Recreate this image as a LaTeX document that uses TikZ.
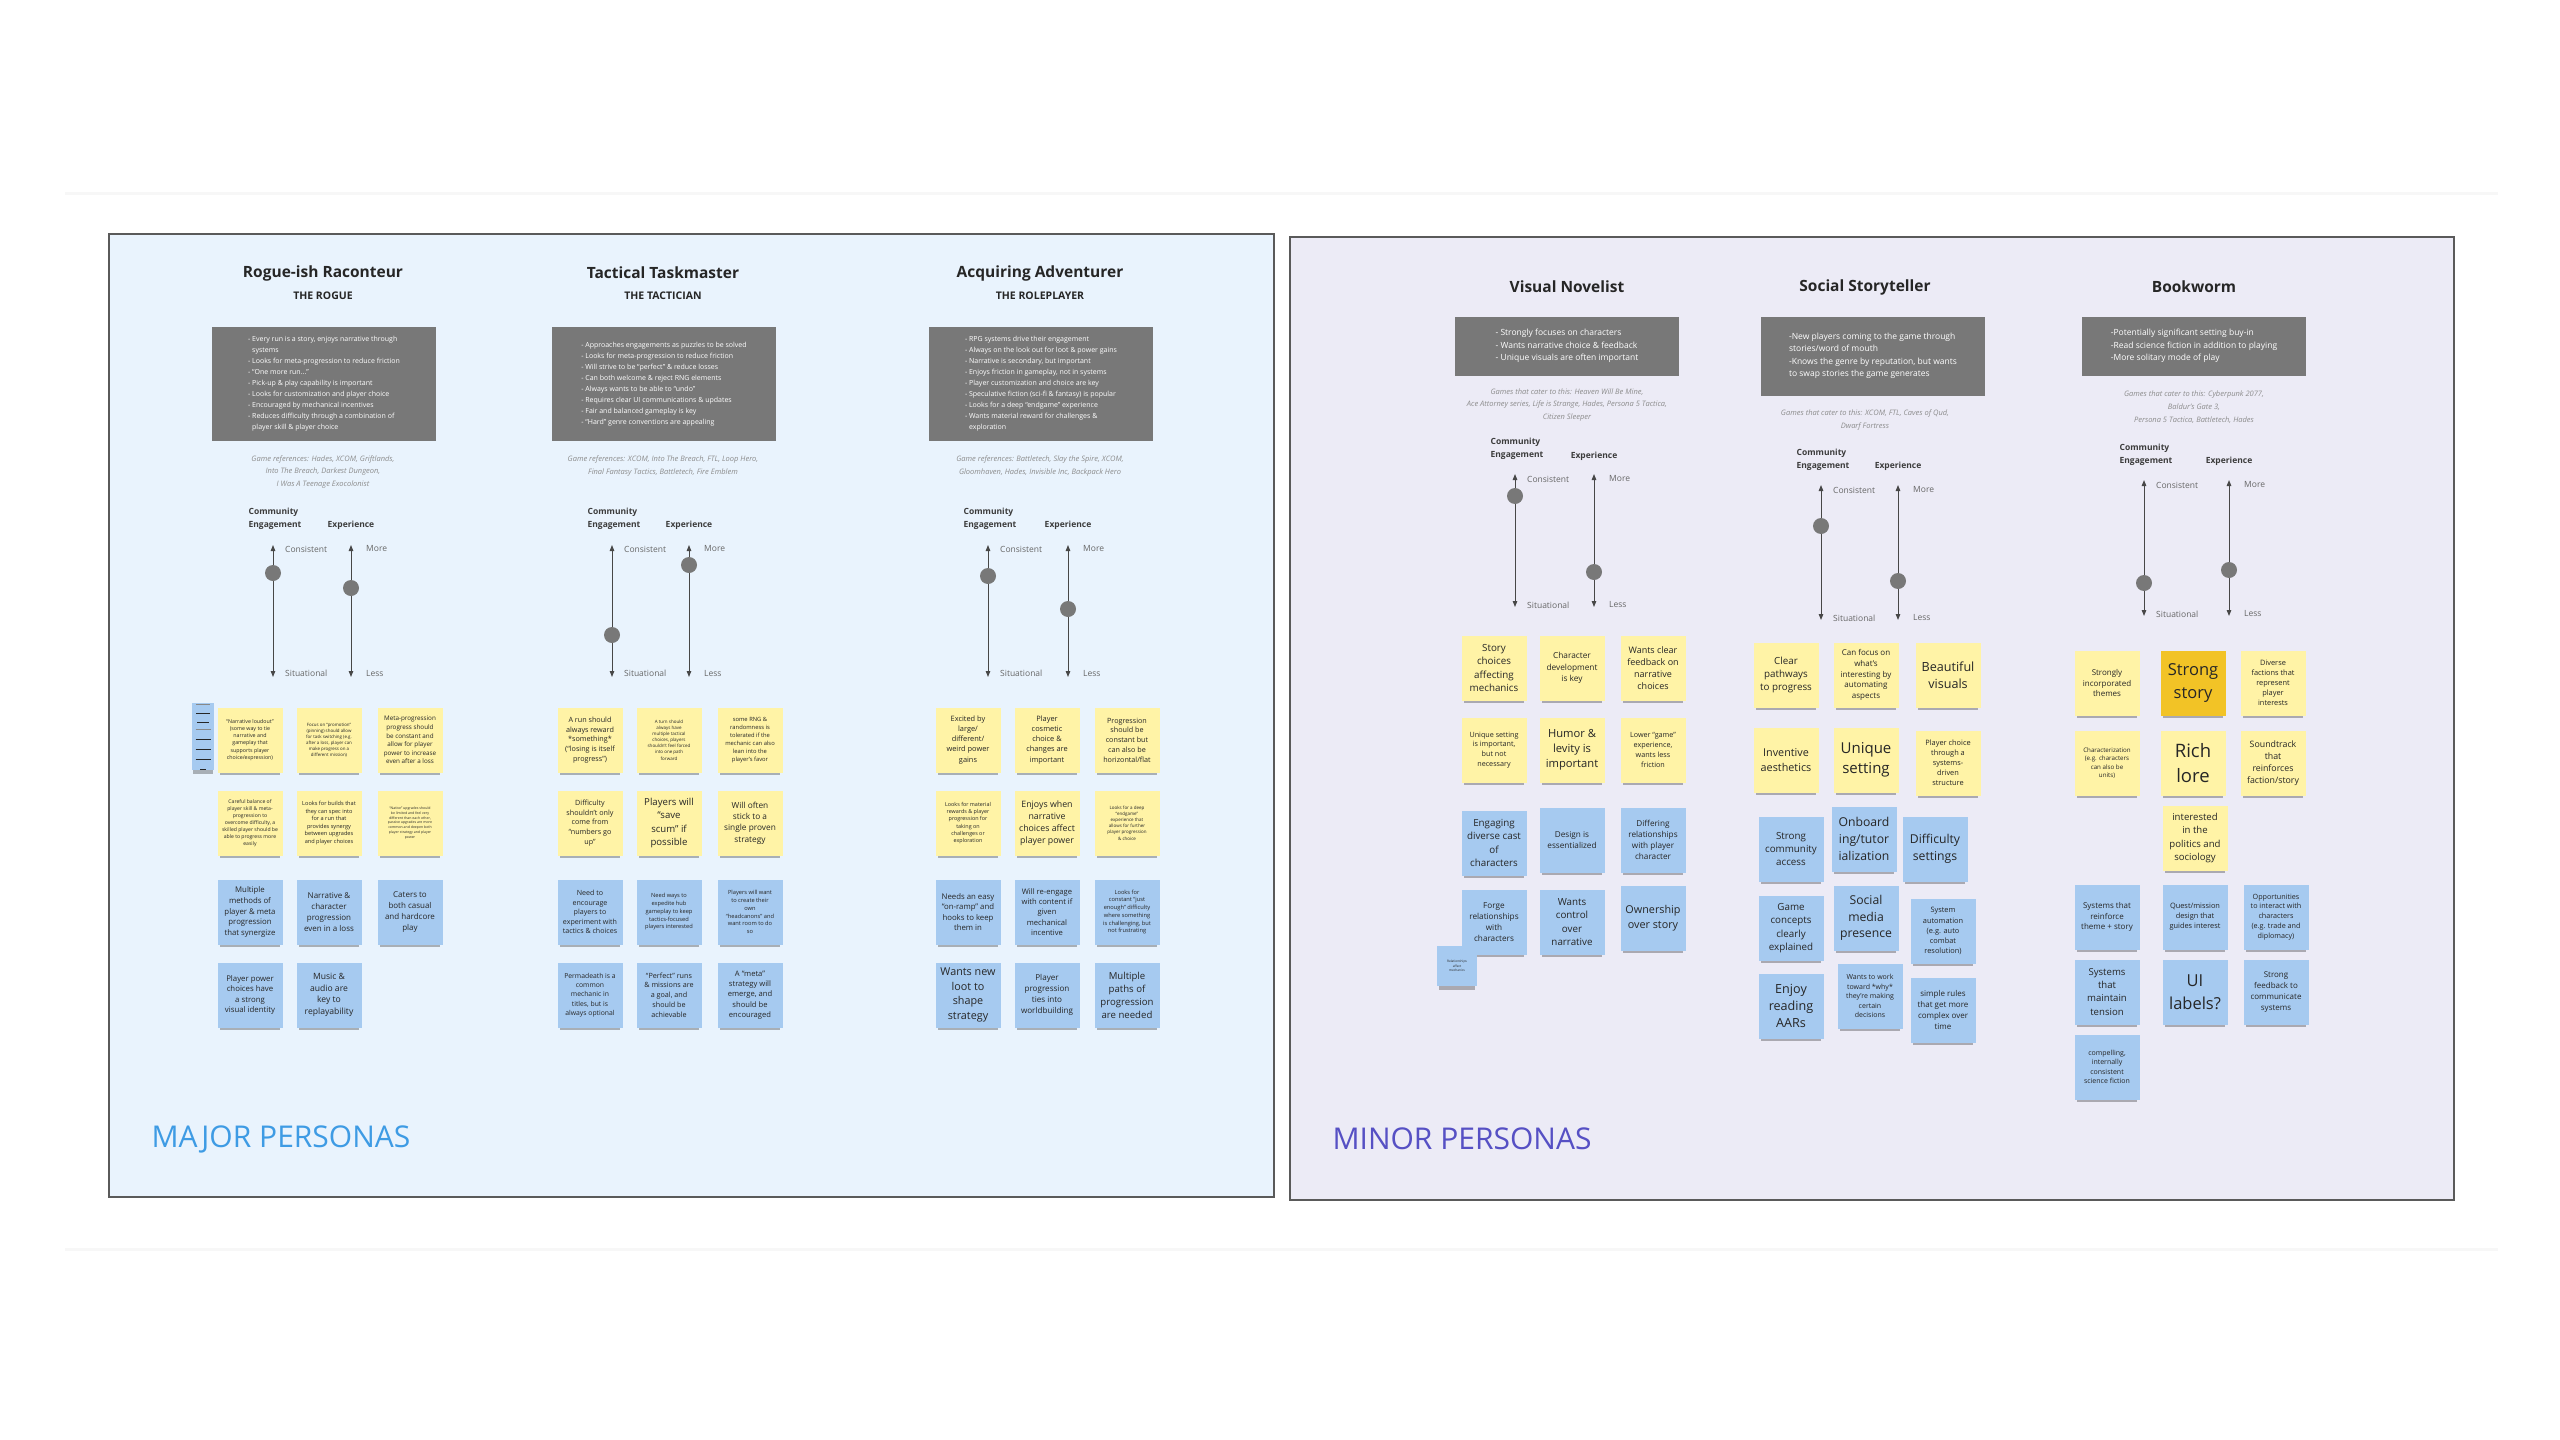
\documentclass[tikz,border=0pt]{standalone}
\usepackage{fontspec}
\setmainfont{Open Sans}
\usetikzlibrary{arrows.meta,positioning,shadows}
\definecolor{pcInk}{HTML}{262626}
\definecolor{pcMuted}{HTML}{8C8C8C}
\definecolor{pcSlate}{HTML}{787878}
\definecolor{pcBorder}{HTML}{5A5A5A}
\definecolor{pcMajorBg}{HTML}{E9F3FD}
\definecolor{pcMinorBg}{HTML}{ECEBF6}
\definecolor{pcYellow}{HTML}{FFF3A6}
\definecolor{pcBlue}{HTML}{A6CAF0}
\definecolor{pcGold}{HTML}{F2C326}
\definecolor{pcMajor}{HTML}{3E9BE4}
\definecolor{pcMinor}{HTML}{5650C4}
\newcommand\stsz[1]{\fontsize{#1}{\fpeval{1.36*#1}}\selectfont}
\tikzset{
  pc canvas/.style={fill=white},
  pc frame/.style={draw=black!3, line width=3pt},
  pc major panel/.style={fill=pcMajorBg, draw=pcBorder, line width=1.2pt},
  pc minor panel/.style={fill=pcMinorBg, draw=pcBorder, line width=1.2pt},
  pc note/.style={
    rectangle, minimum width=65pt, minimum height=65pt, inner sep=1pt,
    align=center, text=pcInk,
    drop shadow={shadow xshift=0pt, shadow yshift=-6pt, shadow scale=.92,
      opacity=.28, fill=black}
  },
  pc yellow/.style={pc note, fill=pcYellow},
  pc blue/.style={pc note, fill=pcBlue},
  pc gold/.style={pc note, fill=pcGold},
  pc tiny/.style={pc note, minimum width=22pt, minimum height=24pt, fill=pcBlue,
    drop shadow={shadow xshift=0pt, shadow yshift=-2pt, shadow scale=.9,
      opacity=.22, fill=black}},
  pc title/.style={font=\bfseries\stsz{15.5}, text=pcInk},
  pc subtitle/.style={font=\bfseries\stsz{10.5}, text=pcInk},
  pc summary/.style={fill=pcSlate, text=white, align=left, inner sep=0pt},
  pc refs/.style={font=\itshape\fontsize{7.5}{12.8}\selectfont, text=pcMuted, align=center},
  pc axis/.style={
    draw=pcInk!85, line width=1pt,
    {Triangle[length=6pt,width=4.5pt]}-{Triangle[length=6pt,width=4.5pt]}
  },
  pc dot/.style={circle, fill=pcSlate, minimum size=16pt, inner sep=0pt},
  pc axis title/.style={font=\bfseries\fontsize{8.5}{12.5}\selectfont, text=pcInk!90, align=left},
  pc axis note/.style={font=\fontsize{8.5}{10}\selectfont, text=pcInk!70, anchor=west, inner sep=0pt},
  pc heading/.style={font=\fontsize{30}{36}\selectfont, anchor=west}
}

\begin{document}
\begin{tikzpicture}[x=1pt,y=-1pt]
  \path[pc canvas] (0,0) rectangle (2560,1440);
  \useasboundingbox (0,0) rectangle (2560,1440);
  \draw[pc frame] (65,193) -- (2498,193);
  \draw[pc frame] (65,1249) -- (2498,1249);
  \path[pc major panel] (109,234) rectangle (1274,1197);
  \path[pc minor panel] (1290,237) rectangle (2454,1200);

  \node[pc heading, text=pcMajor] (majorHead) at (148,1139) {MAJOR PERSONAS};
  \node[pc heading, text=pcMinor] (minorHead) at (1329,1139) {MINOR PERSONAS};

  \node[pc title] (rogTitle) at (323,273) {Rogue-ish Raconteur};
  \node[pc subtitle] (rogSub) at (323,296) {THE ROGUE};
  \node[pc summary, minimum width=224pt, minimum height=114pt, font=\fontsize{7}{11}\selectfont] (rogSum) at (324,384) {%
    - Every run is a story, enjoys narrative through\\
    \phantom{- }systems\\
    - Looks for meta-progression to reduce friction\\
    - ``One more run...''\\
    - Pick-up \& play capability is important\\
    - Looks for customization and player choice\\
    - Encouraged by mechanical incentives\\
    - Reduces difficulty through a combination of\\
    \phantom{- }player skill \& player choice};
  \node[pc refs] (rogRefs) at (323,472) {Game references: Hades, XCOM, Griftlands,\\Into The Breach, Darkest Dungeon,\\I Was A Teenage Exocolonist};

  \node[pc title] (tacTitle) at (663,273) {Tactical Taskmaster};
  \node[pc subtitle] (tacSub) at (663,296) {THE TACTICIAN};
  \node[pc summary, minimum width=224pt, minimum height=114pt, font=\fontsize{7}{11}\selectfont] (tacSum) at (664,384) {%
    - Approaches engagements as puzzles to be solved\\
    - Looks for meta-progression to reduce friction\\
    - Will strive to be ``perfect'' \& reduce losses\\
    - Can both welcome \& reject RNG elements\\
    - Always wants to be able to ``undo''\\
    - Requires clear UI communications \& updates\\
    - Fair and balanced gameplay is key\\
    - ``Hard'' genre conventions are appealing};
  \node[pc refs] (tacRefs) at (663,466) {Game references: XCOM, Into The Breach, FTL, Loop Hero,\\Final Fantasy Tactics, Battletech, Fire Emblem};

  \node[pc title] (rolTitle) at (1040,273) {Acquiring Adventurer};
  \node[pc subtitle] (rolSub) at (1040,296) {THE ROLEPLAYER};
  \node[pc summary, minimum width=224pt, minimum height=114pt, font=\fontsize{7}{11}\selectfont] (rolSum) at (1041,384) {%
    - RPG systems drive their engagement\\
    - Always on the look out for loot \& power gains\\
    - Narrative is secondary, but important\\
    - Enjoys friction in gameplay, not in systems\\
    - Player customization and choice are key\\
    - Speculative fiction (sci-fi \& fantasy) is popular\\
    - Looks for a deep ``endgame'' experience\\
    - Wants material reward for challenges \&\\
    \phantom{- }exploration};
  \node[pc refs] (rolRefs) at (1040,466) {Game references: Battletech, Slay the Spire, XCOM,\\Gloomhaven, Hades, Invisible Inc, Backpack Hero};

  \node[pc title] (visTitle) at (1567,287) {Visual Novelist};
  \node[pc summary, minimum width=224pt, minimum height=59pt, font=\fontsize{8.5}{12.5}\selectfont] (visSum) at (1567,346) {%
    - Strongly focuses on characters\\
    - Wants narrative choice \& feedback\\
    - Unique visuals are often important};
  \node[pc refs] (visRefs) at (1567,405) {Games that cater to this: Heaven Will Be Mine,\\Ace Attorney series, Life is Strange, Hades, Persona 5 Tactica,\\Citizen Sleeper};

  \node[pc title] (socTitle) at (1865,287) {Social Storyteller};
  \node[pc summary, minimum width=224pt, minimum height=79pt, font=\fontsize{8.5}{12.5}\selectfont] (socSum) at (1873,356) {%
    -New players coming to the game through\\
    stories/word of mouth\\
    -Knows the genre by reputation, but wants\\
    to swap stories the game generates};
  \node[pc refs] (socRefs) at (1865,420) {Games that cater to this: XCOM, FTL, Caves of Qud,\\Dwarf Fortress};

  \node[pc title] (bokTitle) at (2194,287) {Bookworm};
  \node[pc summary, minimum width=224pt, minimum height=59pt, font=\fontsize{8.5}{12.5}\selectfont] (bokSum) at (2194,346) {%
    -Potentially significant setting buy-in\\
    -Read science fiction in addition to playing\\
    -More solitary mode of play};
  \node[pc refs] (bokRefs) at (2194,407) {Games that cater to this: Cyberpunk 2077,\\Baldur's Gate 3,\\Persona 5 Tactica, Battletech, Hades};

  \coordinate (rogCtop) at (273,545); \coordinate (rogCbot) at (273,677);
  \coordinate (rogEtop) at (351,545); \coordinate (rogEbot) at (351,677);
  \draw[pc axis] (rogCbot) -- (rogCtop);
  \draw[pc axis] (rogEbot) -- (rogEtop);
  \node[pc dot] (rogCdot) at (273,573) {};
  \node[pc dot] (rogEdot) at (351,588) {};
  \node[pc axis title] (rogCname) at (275,519) {Community\\Engagement};
  \node[pc axis title] (rogEname) at (351,525) {Experience};
  \node[pc axis note] (rogCmax) at (285,549) {Consistent};
  \node[pc axis note] (rogCmin) at (285,673) {Situational};
  \node[pc axis note] (rogEmax) at (366,549) {More};
  \node[pc axis note] (rogEmin) at (366,673) {Less};

  \coordinate (tacCtop) at (612,545); \coordinate (tacCbot) at (612,677);
  \coordinate (tacEtop) at (689,545); \coordinate (tacEbot) at (689,677);
  \draw[pc axis] (tacCbot) -- (tacCtop);
  \draw[pc axis] (tacEbot) -- (tacEtop);
  \node[pc dot] (tacCdot) at (612,635) {};
  \node[pc dot] (tacEdot) at (689,565) {};
  \node[pc axis title] (tacCname) at (614,519) {Community\\Engagement};
  \node[pc axis title] (tacEname) at (689,525) {Experience};
  \node[pc axis note] (tacCmax) at (624,549) {Consistent};
  \node[pc axis note] (tacCmin) at (624,673) {Situational};
  \node[pc axis note] (tacEmax) at (704,549) {More};
  \node[pc axis note] (tacEmin) at (704,673) {Less};

  \coordinate (rolCtop) at (988,545); \coordinate (rolCbot) at (988,677);
  \coordinate (rolEtop) at (1068,545); \coordinate (rolEbot) at (1068,677);
  \draw[pc axis] (rolCbot) -- (rolCtop);
  \draw[pc axis] (rolEbot) -- (rolEtop);
  \node[pc dot] (rolCdot) at (988,576) {};
  \node[pc dot] (rolEdot) at (1068,609) {};
  \node[pc axis title] (rolCname) at (990,519) {Community\\Engagement};
  \node[pc axis title] (rolEname) at (1068,525) {Experience};
  \node[pc axis note] (rolCmax) at (1000,549) {Consistent};
  \node[pc axis note] (rolCmin) at (1000,673) {Situational};
  \node[pc axis note] (rolEmax) at (1083,549) {More};
  \node[pc axis note] (rolEmin) at (1083,673) {Less};

  \coordinate (visCtop) at (1515,474); \coordinate (visCbot) at (1515,607);
  \coordinate (visEtop) at (1594,474); \coordinate (visEbot) at (1594,607);
  \draw[pc axis] (visCbot) -- (visCtop);
  \draw[pc axis] (visEbot) -- (visEtop);
  \node[pc dot] (visCdot) at (1515,496) {};
  \node[pc dot] (visEdot) at (1594,572) {};
  \node[pc axis title] (visCname) at (1517,449) {Community\\Engagement};
  \node[pc axis title] (visEname) at (1594,456) {Experience};
  \node[pc axis note] (visCmax) at (1527,479) {Consistent};
  \node[pc axis note] (visCmin) at (1527,605) {Situational};
  \node[pc axis note] (visEmax) at (1609,479) {More};
  \node[pc axis note] (visEmin) at (1609,605) {Less};

  \coordinate (socCtop) at (1821,485); \coordinate (socCbot) at (1821,620);
  \coordinate (socEtop) at (1898,485); \coordinate (socEbot) at (1898,620);
  \draw[pc axis] (socCbot) -- (socCtop);
  \draw[pc axis] (socEbot) -- (socEtop);
  \node[pc dot] (socCdot) at (1821,526) {};
  \node[pc dot] (socEdot) at (1898,581) {};
  \node[pc axis title] (socCname) at (1823,460) {Community\\Engagement};
  \node[pc axis title] (socEname) at (1898,466) {Experience};
  \node[pc axis note] (socCmax) at (1833,490) {Consistent};
  \node[pc axis note] (socCmin) at (1833,618) {Situational};
  \node[pc axis note] (socEmax) at (1913,490) {More};
  \node[pc axis note] (socEmin) at (1913,618) {Less};

  \coordinate (bokCtop) at (2144,480); \coordinate (bokCbot) at (2144,616);
  \coordinate (bokEtop) at (2229,480); \coordinate (bokEbot) at (2229,616);
  \draw[pc axis] (bokCbot) -- (bokCtop);
  \draw[pc axis] (bokEbot) -- (bokEtop);
  \node[pc dot] (bokCdot) at (2144,583) {};
  \node[pc dot] (bokEdot) at (2229,570) {};
  \node[pc axis title] (bokCname) at (2146,455) {Community\\Engagement};
  \node[pc axis title] (bokEname) at (2229,461) {Experience};
  \node[pc axis note] (bokCmax) at (2156,485) {Consistent};
  \node[pc axis note] (bokCmin) at (2156,614) {Situational};
  \node[pc axis note] (bokEmax) at (2244,485) {More};
  \node[pc axis note] (bokEmin) at (2244,614) {Less};

  \node[pc tiny] (rogTinyA) at (203,718) {\color{pcInk!55}\rule{14pt}{.5pt}\\[-3pt]\rule{14pt}{.5pt}\\[-3pt]\rule{12pt}{.5pt}\\[-3pt]\rule{10pt}{.5pt}};
  \node[pc tiny] (rogTinyB) at (203,749) {\color{pcInk!55}\rule{15pt}{.6pt}\\[-2pt]\rule{15pt}{.6pt}\\[-2pt]\rule{15pt}{.6pt}\\[-2pt]\rule{15pt}{.6pt}\\[-2pt]\rule{6pt}{.6pt}};

  \node[pc yellow, font=\stsz{5.3}] (rogY1) at (250,740) {``Narrative loudout''\\(some way to tie\\narrative and\\gameplay that\\supports player\\choice/expression)};
  \node[pc yellow, font=\stsz{4.4}] (rogY2) at (329,740) {Focus on ``promotion''\\(pinning) should allow\\for task switching (e.g.\\after a loss, player can\\make progress on a\\different mission)};
  \node[pc yellow, font=\stsz{6.3}] (rogY3) at (410,740) {Meta-progression\\progress should\\be constant and\\allow for player\\power to increase\\even after a loss};
  \node[pc yellow, font=\stsz{5.1}] (rogY4) at (250,823) {Careful balance of\\player skill \& meta-\\progression to\\overcome difficulty, a\\skilled player should be\\able to progress more\\easily};
  \node[pc yellow, font=\stsz{5.6}] (rogY5) at (329,823) {Looks for builds that\\they can spec into\\for a run that\\provides synergy\\between upgrades\\and player choices};
  \node[pc yellow, font=\stsz{3.5}] (rogY6) at (410,823) {``Native'' upgrades should\\be limited and feel very\\different than each other,\\passive upgrades are more\\common and deepen both\\player strategy and player\\power};
  \node[pc blue, font=\stsz{7.8}] (rogB1) at (250,912) {Multiple\\methods of\\player \& meta\\progression\\that synergize};
  \node[pc blue, font=\stsz{8}] (rogB2) at (329,912) {Narrative \&\\character\\progression\\even in a loss};
  \node[pc blue, font=\stsz{8}] (rogB3) at (410,912) {Caters to\\both casual\\and hardcore\\play};
  \node[pc blue, font=\stsz{7.8}] (rogB4) at (250,995) {Player power\\choices have\\a strong\\visual identity};
  \node[pc blue, font=\stsz{8.6}] (rogB5) at (329,995) {Music \&\\audio are\\key to\\replayability};

  \node[pc yellow, font=\stsz{7.2}] (tacY1) at (590,740) {A run should\\always reward\\*something*\\(``losing is itself\\progress'')};
  \node[pc yellow, font=\stsz{4.5}] (tacY2) at (669,740) {A turn should\\always have\\multiple tactical\\choices, players\\shouldn't feel forced\\into one path\\forward};
  \node[pc yellow, font=\stsz{5.8}] (tacY3) at (750,740) {some RNG \&\\randomness is\\tolerated if the\\mechanic can also\\lean into the\\player's favor};
  \node[pc yellow, font=\stsz{7.2}] (tacY4) at (590,823) {Difficulty\\shouldn't only\\come from\\``numbers go\\up''};
  \node[pc yellow, font=\stsz{9.6}] (tacY5) at (669,823) {Players will\\``save\\scum'' if\\possible};
  \node[pc yellow, font=\stsz{8.3}] (tacY6) at (750,823) {Will often\\stick to a\\single proven\\strategy};
  \node[pc blue, font=\stsz{7.1}] (tacB1) at (590,912) {Need to\\encourage\\players to\\experiment with\\tactics \& choices};
  \node[pc blue, font=\stsz{5.7}] (tacB2) at (669,912) {Need ways to\\expedite hub\\gameplay to keep\\tactics-focused\\players interested};
  \node[pc blue, font=\stsz{5.7}] (tacB3) at (750,912) {Players will want\\to create their\\own\\``headcanons'' and\\want room to do\\so};
  \node[pc blue, font=\stsz{6.8}] (tacB4) at (590,995) {Permadeath is a\\common\\mechanic in\\titles, but is\\always optional};
  \node[pc blue, font=\stsz{7.2}] (tacB5) at (669,995) {``Perfect'' runs\\\& missions are\\a goal, and\\should be\\achievable};
  \node[pc blue, font=\stsz{7.6}] (tacB6) at (750,995) {A ``meta''\\strategy will\\emerge, and\\should be\\encouraged};

  \node[pc yellow, font=\stsz{7.4}] (rolY1) at (968,740) {Excited by\\large/\\different/\\weird power\\gains};
  \node[pc yellow, font=\stsz{7.4}] (rolY2) at (1047,740) {Player\\cosmetic\\choice \&\\changes are\\important};
  \node[pc yellow, font=\stsz{7.2}] (rolY3) at (1127,740) {Progression\\should be\\constant but\\can also be\\horizontal/flat};
  \node[pc yellow, font=\stsz{5.4}] (rolY4) at (968,823) {Looks for material\\rewards \& player\\progression for\\taking on\\challenges or\\exploration};
  \node[pc yellow, font=\stsz{8.8}] (rolY5) at (1047,823) {Enjoys when\\narrative\\choices affect\\player power};
  \node[pc yellow, font=\stsz{4.5}] (rolY6) at (1127,823) {Looks for a deep\\``endgame''\\experience that\\allows for further\\player progression\\\& choice};
  \node[pc blue, font=\stsz{7.8}] (rolB1) at (968,912) {Needs an easy\\``on-ramp'' and\\hooks to keep\\them in};
  \node[pc blue, font=\stsz{7.6}] (rolB2) at (1047,912) {Will re-engage\\with content if\\given\\mechanical\\incentive};
  \node[pc blue, font=\stsz{5.7}] (rolB3) at (1127,912) {Looks for\\constant ``just\\enough'' difficulty\\where something\\is challenging, but\\not frustrating};
  \node[pc blue, font=\stsz{10.8}] (rolB4) at (968,995) {Wants new\\loot to\\shape\\strategy};
  \node[pc blue, font=\stsz{8.1}] (rolB5) at (1047,995) {Player\\progression\\ties into\\worldbuilding};
  \node[pc blue, font=\stsz{9.6}] (rolB6) at (1127,995) {Multiple\\paths of\\progression\\are needed};

  \node[pc yellow, font=\stsz{9.8}] (visY1) at (1494,668) {Story\\choices\\affecting\\mechanics};
  \node[pc yellow, font=\stsz{8.3}] (visY2) at (1572,668) {Character\\development\\is key};
  \node[pc yellow, font=\stsz{9}] (visY3) at (1653,668) {Wants clear\\feedback on\\narrative\\choices};
  \node[pc yellow, font=\stsz{7.2}] (visY4) at (1494,750) {Unique setting\\is important,\\but not\\necessary};
  \node[pc yellow, font=\stsz{11.2}] (visY5) at (1572,750) {Humor \&\\levity is\\important};
  \node[pc yellow, font=\stsz{7.2}] (visY6) at (1653,750) {Lower ``game''\\experience,\\wants less\\friction};
  \node[pc blue, font=\stsz{9.8}] (visB1) at (1494,843) {Engaging\\diverse cast\\of\\characters};
  \node[pc blue, font=\stsz{8.2}] (visB2) at (1572,840) {Design is\\essentialized};
  \node[pc blue, font=\stsz{8.2}] (visB3) at (1653,840) {Differing\\relationships\\with player\\character};
  \node[pc blue, font=\stsz{8.2}] (visB4) at (1494,922) {Forge\\relationships\\with\\characters};
  \node[pc blue, font=\stsz{9.8}] (visB5) at (1572,922) {Wants\\control\\over\\narrative};
  \node[pc blue, font=\stsz{10.8}] (visB6) at (1653,918) {Ownership\\over story};
  \node[pc tiny, minimum width=40pt, minimum height=40pt, font=\stsz{3.2}] (visTiny) at (1457,966) {Relationships\\affect\\mechanics};

  \node[pc yellow, font=\stsz{9.8}] (socY1) at (1786,675) {Clear\\pathways\\to progress};
  \node[pc yellow, font=\stsz{8}] (socY2) at (1866,675) {Can focus on\\what's\\interesting by\\automating\\aspects};
  \node[pc yellow, font=\stsz{12.6}] (socY3) at (1948,675) {Beautiful\\visuals};
  \node[pc yellow, font=\stsz{10.8}] (socY4) at (1786,760) {Inventive\\aesthetics};
  \node[pc yellow, font=\stsz{15}] (socY5) at (1866,760) {Unique\\setting};
  \node[pc yellow, font=\stsz{7.4}] (socY6) at (1948,763) {Player choice\\through a\\systems-\\driven\\structure};
  \node[pc blue, font=\stsz{9.8}] (socB1) at (1791,849) {Strong\\community\\access};
  \node[pc blue, font=\stsz{12.2}] (socB2) at (1864,839) {Onboard\\ing/tutor\\ialization};
  \node[pc blue, font=\stsz{12.2}] (socB3) at (1935,849) {Difficulty\\settings};
  \node[pc blue, font=\stsz{9.8}] (socB4) at (1791,928) {Game\\concepts\\clearly\\explained};
  \node[pc blue, font=\stsz{12.2}] (socB5) at (1866,918) {Social\\media\\presence};
  \node[pc blue, font=\stsz{7.4}] (socB6) at (1943,931) {System\\automation\\(e.g. auto\\combat\\resolution)};
  \node[pc blue, font=\stsz{12.6}] (socB7) at (1791,1006) {Enjoy\\reading\\AARs};
  \node[pc blue, font=\stsz{7}] (socB8) at (1870,996) {Wants to work\\toward *why*\\they're making\\certain\\decisions};
  \node[pc blue, font=\stsz{8}] (socB9) at (1943,1010) {simple rules\\that get more\\complex over\\time};

  \node[pc yellow, font=\stsz{8}] (bokY1) at (2107,683) {Strongly\\incorporated\\themes};
  \node[pc gold, font=\stsz{16.5}] (bokY2) at (2193,683) {Strong\\story};
  \node[pc yellow, font=\stsz{7.4}] (bokY3) at (2273,683) {Diverse\\factions that\\represent\\player\\interests};
  \node[pc yellow, font=\stsz{6.2}] (bokY4) at (2107,763) {Characterization\\(e.g. characters\\can also be\\units)};
  \node[pc yellow, font=\stsz{18.5}] (bokY5) at (2193,763) {Rich\\lore};
  \node[pc yellow, font=\stsz{8.8}] (bokY6) at (2273,763) {Soundtrack\\that\\reinforces\\faction/story};
  \node[pc yellow, font=\stsz{9.6}] (bokY7) at (2195,838) {interested\\in the\\politics and\\sociology};
  \node[pc blue, font=\stsz{8}] (bokB1) at (2107,917) {Systems that\\reinforce\\theme + story};
  \node[pc blue, font=\stsz{7.4}] (bokB2) at (2195,917) {Quest/mission\\design that\\guides interest};
  \node[pc blue, font=\stsz{7.2}] (bokB3) at (2276,917) {Opportunities\\to interact with\\characters\\(e.g. trade and\\diplomacy)};
  \node[pc blue, font=\stsz{9.6}] (bokB4) at (2107,992) {Systems\\that\\maintain\\tension};
  \node[pc blue, font=\stsz{16.5}] (bokB5) at (2195,992) {UI\\labels?};
  \node[pc blue, font=\stsz{8}] (bokB6) at (2276,992) {Strong\\feedback to\\communicate\\systems};
  \node[pc blue, font=\stsz{7}] (bokB7) at (2107,1067) {compelling,\\internally\\consistent\\science fiction};
\end{tikzpicture}
\end{document}
